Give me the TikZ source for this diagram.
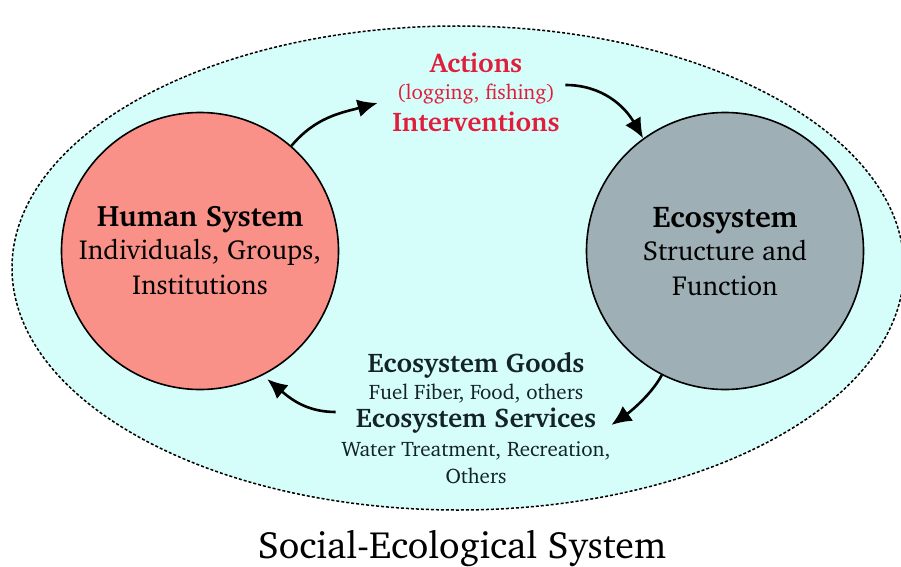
\documentclass[tikz,border=0pt]{standalone}
\usepackage[T1]{fontenc}
\usepackage{charter}
\usetikzlibrary{arrows.meta}
\definecolor{sescyan}{RGB}{213,253,249}
\definecolor{humanred}{RGB}{250,145,137}
\definecolor{ecogray}{RGB}{158,175,181}
\definecolor{actred}{RGB}{224,30,60}
\definecolor{darkslate}{RGB}{20,35,40}
\tikzset{flow/.style = {-{Latex[length=20pt,width=18pt]}, line width=2.6pt}}
\tikzset{system/.style = {circle,draw,line width=1.6pt,minimum size=277pt,inner sep=0pt,align=center,font=\fontsize{27.5}{35}\selectfont}}

\begin{document}
\begin{tikzpicture}[x=1pt,y=1pt]
	\useasboundingbox (0,0) rectangle (901,566);
	% outer system
	\draw [fill=sescyan, dash pattern=on 3pt off 2pt, line width=1.5pt] (458,298) ellipse [x radius=446, y radius=242];
	\node (title) at (462,18) {\fontsize{38}{44}\selectfont Social-Ecological System};
	\begin{scope}[every node/.style={inner sep=1pt}]
	    \node [system, fill=humanred] (human) at (200,315) {\raisebox{-2pt}{\fontsize{29.5}{35}\selectfont\textbf{Human System}}\\Individuals, Groups,\\Institutions};
	    \node [system, fill=ecogray] (eco) at (725,315) {\raisebox{-2pt}{\fontsize{30}{35}\selectfont\textbf{Ecosystem}}\\Structure and\\Function};
	\end{scope}
	\begin{scope}[every node/.style={inner sep=1pt, text=actred}]
	    \node (actions) at (476,503) {\fontsize{27}{30}\selectfont\textbf{Actions}};
	    \node (logging) at (476,472) {\fontsize{21}{24}\selectfont (logging, fishing)};
	    \node (interv) at (476,444) {\fontsize{27}{30}\selectfont\textbf{Interventions}};
	\end{scope}
	\begin{scope}[every node/.style={inner sep=1pt, text=darkslate}]
	    \node (goods) at (476,201) {\fontsize{27}{30}\selectfont\textbf{Ecosystem Goods}};
	    \node (fuel) at (476,172) {\fontsize{21}{24}\selectfont Fuel Fiber, Food, others};
	    \node (services) at (476,145) {\fontsize{27}{30}\selectfont\textbf{Ecosystem Services}};
	    \node (water) at (476,115) {\fontsize{21}{24}\selectfont Water Treatment, Recreation,};
	    \node (others) at (476,90) {\fontsize{21}{24}\selectfont Others};
	\end{scope}
	\begin{scope}[every path/.style={flow}]
	    \draw (human.49) to [out=50, in=195] ([xshift=-18pt,yshift=-9pt]logging.west);
	    \draw ([xshift=9pt,yshift=9pt]logging.east) to [out=0, in=120] (eco.126);
	    \draw (eco.243) to [out=242, in=35, looseness=0.8] ([xshift=14pt,yshift=-4pt]services.east);
	    \draw ([xshift=-19pt,yshift=9pt]services.west) to [out=180, in=-40] ([xshift=4pt,yshift=-4pt]human.297);
	\end{scope}
\end{tikzpicture}
\end{document}
